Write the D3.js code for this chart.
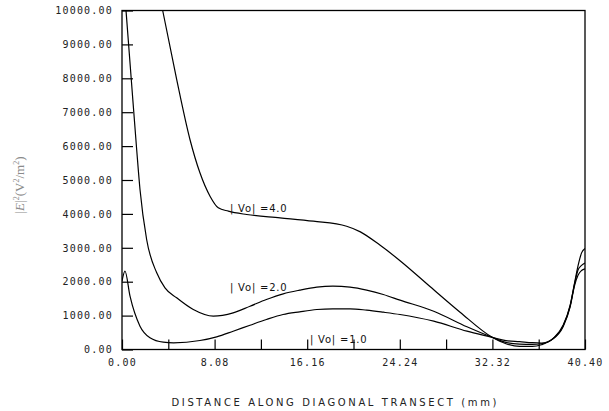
<!DOCTYPE html>
<html><head><meta charset="utf-8">
<script src="https://cdn.jsdelivr.net/npm/d3@7"></script>
<style>body{margin:0;background:#fff}svg{display:block}</style>
</head><body>
<svg id="c" width="609" height="411"></svg>
<script>
// ---- data ----
const xTickValues = [0, 4.04, 8.08, 12.12, 16.16, 20.20, 24.24, 28.28, 32.32, 36.36, 40.40];
const xTickLabels = ["0.00", "", "8.08", "", "16.16", "", "24.24", "", "32.32", "", "40.40"];
const yTickValues = [0,1000,2000,3000,4000,5000,6000,7000,8000,9000,10000];
const yTickLabels = ["0.00","1000.00","2000.00","3000.00","4000.00","5000.00","6000.00","7000.00","8000.00","9000.00","10000.00"];

const x4 = [3.55, 4.77, 5.93, 6.8, 7.68, 8.4, 9.28, 10.88, 13.79, 16.7, 19.6, 20.8, 22.5, 24.26, 26.9, 29.5, 32.3, 33.5, 34.7, 35.8, 36.6, 37.6, 38.5, 39.1, 39.5, 39.8, 40.1, 40.4];
const y4 = [10000, 7965, 6195, 5212, 4522, 4180, 4080, 3982, 3885, 3785, 3637, 3470, 3080, 2620, 1850, 1100, 360, 170, 90, 90, 140, 320, 720, 1300, 1980, 2480, 2850, 2980];

const x2 = [0.35, 0.81, 1.28, 1.57, 2.15, 3.03, 3.75, 4.77, 6.22, 7.97, 9.7, 11.17, 12.6, 14.07, 15.5, 17, 18.4, 19.9, 21.35, 22.8, 24.26, 27.2, 30.1, 32.3, 33.5, 34.7, 35.8, 36.6, 37.6, 38.5, 39.1, 39.5, 39.8, 40.1, 40.4];
const y2 = [10000, 7965, 5900, 4720, 3245, 2262, 1820, 1525, 1180, 985, 1082, 1277, 1475, 1643, 1750, 1838, 1867, 1838, 1750, 1622, 1455, 1130, 670, 360, 210, 160, 150, 170, 320, 700, 1280, 1950, 2350, 2480, 2550];

const x1 = [0, 0.26, 0.7, 1.57, 2.44, 3.6, 4.5, 6.8, 8.26, 9.7, 11.17, 12.6, 14.05, 15.5, 17, 18.4, 19.9, 21.35, 22.8, 24.26, 27.2, 30.1, 32.3, 33.5, 34.7, 35.8, 36.6, 37.6, 38.5, 39.1, 39.5, 39.8, 40.1, 40.4];
const y1 = [2015, 2310, 1572, 687, 345, 215, 197, 265, 374, 540, 717, 885, 1032, 1112, 1180, 1200, 1200, 1160, 1100, 1032, 835, 540, 360, 260, 230, 200, 190, 310, 680, 1250, 1900, 2200, 2330, 2380];

const curveLabels = ["| Vo| =4.0", "| Vo| =2.0", "| Vo| =1.0"];
const labelX = [9.42, 9.42, 16.4];
const labelY = [4070, 1740, 206];

const xTitle = "DISTANCE ALONG DIAGONAL TRANSECT  (mm)";

// ---- drawing ----
const svg = d3.select("#c");
const x = d3.scaleLinear().domain([0, 40.4]).range([122, 585]);
const y = d3.scaleLinear().domain([0, 10000]).range([349.5, 10.5]);

svg.append("defs").append("clipPath").attr("id","clip")
  .append("rect").attr("x",122).attr("y",10.5).attr("width",463).attr("height",339);

const mono = "'DejaVu Sans Mono', monospace";

const xAxis = d3.axisBottom(x).tickValues(xTickValues)
  .tickFormat((d,i)=>xTickLabels[i]).tickSizeInner(-10).tickSizeOuter(0).tickPadding(9);
const gx = svg.append("g").attr("transform",`translate(0,${y(0)})`).call(xAxis);
gx.select(".domain").remove();
gx.selectAll("line").attr("stroke","#000").attr("stroke-width",1.2);
gx.selectAll("text").attr("font-family",mono).attr("font-size",10)
  .attr("letter-spacing",1.2).attr("fill","#222");

const yAxis = d3.axisLeft(y).tickValues(yTickValues)
  .tickFormat((d,i)=>yTickLabels[i]).tickSizeInner(-11).tickSizeOuter(0).tickPadding(9);
const gy = svg.append("g").attr("transform",`translate(${x(0)},0)`).call(yAxis);
gy.select(".domain").remove();
gy.selectAll("line").attr("stroke","#000").attr("stroke-width",1.2);
gy.selectAll("text").attr("font-family",mono).attr("font-size",10)
  .attr("letter-spacing",1.2).attr("fill","#222");

// frame
svg.append("rect").attr("x",x(0)).attr("y",y(10000)).attr("width",x(40.4)-x(0))
  .attr("height",y(0)-y(10000)).attr("fill","none").attr("stroke","#000").attr("stroke-width",1.3);

const line = d3.line().x(d=>x(d[0])).y(d=>y(d[1])).curve(d3.curveMonotoneX);
const series = [d3.zip(x4,y4), d3.zip(x2,y2), d3.zip(x1,y1)];
svg.append("g").attr("clip-path","url(#clip)").selectAll("path").data(series).join("path")
  .attr("d",line).attr("fill","none").attr("stroke","#000").attr("stroke-width",1.2);

svg.append("g").selectAll("text").data(curveLabels).join("text")
  .attr("x",(d,i)=>x(labelX[i])).attr("y",(d,i)=>y(labelY[i]))
  .attr("font-family","'DejaVu Sans', sans-serif").attr("font-size",10)
  .attr("letter-spacing",0.8).attr("fill","#111").text(d=>d);

svg.append("text").attr("x",334).attr("y",406).attr("text-anchor","middle")
  .attr("font-family","'DejaVu Sans', sans-serif").attr("font-size",10)
  .attr("textLength",325).attr("lengthAdjust","spacing").attr("fill","#222")
  .text(xTitle);

const yt = svg.append("text").attr("transform","translate(24,185) rotate(-90)")
  .attr("text-anchor","middle").attr("font-family","'Liberation Serif', serif")
  .attr("font-size",13).attr("fill","#8a8a8a");
yt.append("tspan").text("|");
yt.append("tspan").attr("font-style","italic").text("E");
yt.append("tspan").text("|");
yt.append("tspan").attr("font-size",8).attr("dy",-5).text("2");
yt.append("tspan").attr("dy",5).text("(V");
yt.append("tspan").attr("font-size",8).attr("dy",-5).text("2");
yt.append("tspan").attr("dy",5).text("/m");
yt.append("tspan").attr("font-size",8).attr("dy",-5).text("2");
yt.append("tspan").attr("dy",5).text(")");
</script>
</body></html>
